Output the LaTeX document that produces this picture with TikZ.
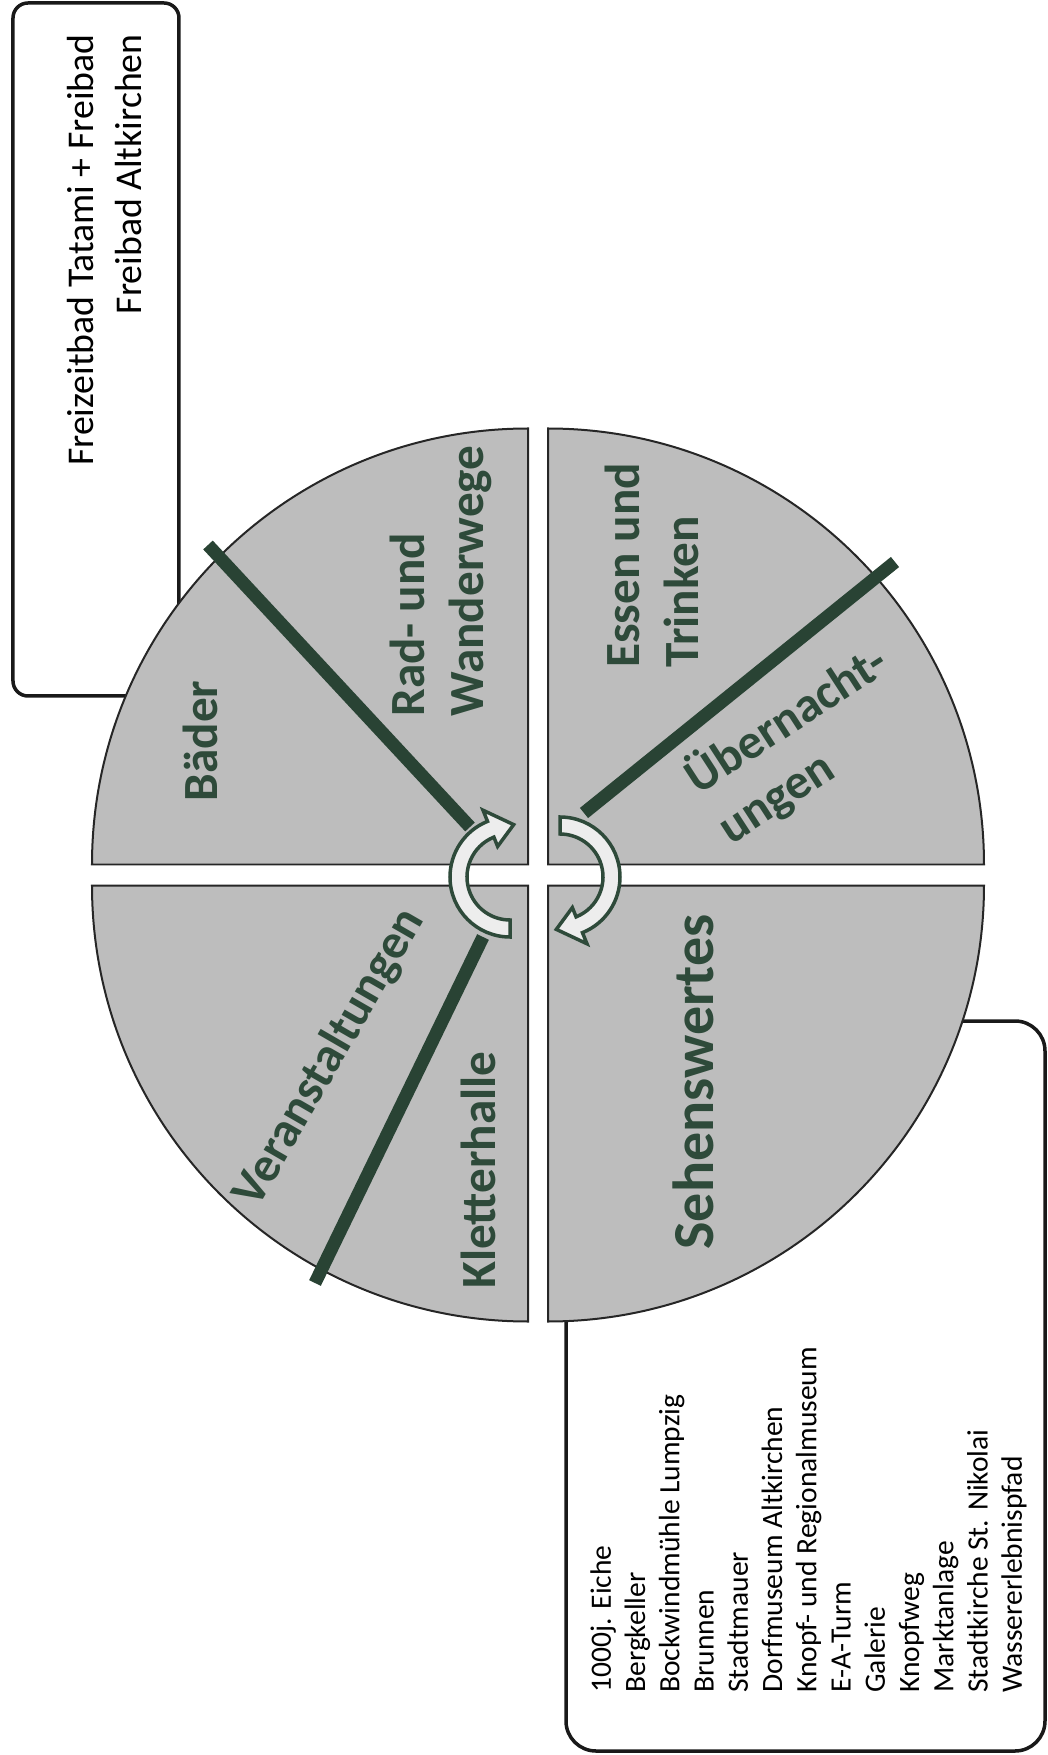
\documentclass[tikz,border=0pt]{standalone}
\usepackage{fontspec}
\setmainfont{Carlito}
\usepackage{tikz}
\usepackage{xcolor}
\definecolor{leafgreen}{HTML}{2E4A3A}
\definecolor{sectorgray}{HTML}{BDBDBD}
\definecolor{arrowfill}{HTML}{EDEDED}
\tikzstyle{sector} = [fill=sectorgray, draw=black!85, line width=0.04cm]
\tikzstyle{split} = [draw=leafgreen!90!black, line width=0.26cm]
\tikzstyle{sectortext} = [text=leafgreen, font=\bfseries\fontsize{28}{34}\selectfont, inner sep=0pt]
\tikzstyle{callout} = [draw=black!90, line width=0.07cm]
\tikzstyle{callouttext} = [font=\fontsize{21.5}{27.3}\selectfont, inner sep=0pt]
\tikzstyle{listtext} = [font=\fontsize{16.8}{19.5}\selectfont, inner sep=0pt]
\tikzstyle{turnarrow} = [fill=arrowfill, draw=leafgreen, line width=0.07cm]

\begin{document}
\begin{tikzpicture}
        \useasboundingbox (-10.76,-17.6) rectangle (10.2,17.5);

        % boxes behind the wheel
        \draw[callout, rounded corners=0.3cm] (-10.5,3.58) rectangle (-7.18,17.44);
        \draw[callout, rounded corners=0.6cm] (0.56,-17.52) rectangle (10.14,-2.92);

        \draw (-8.66,16.82) node[callouttext, rotate=90, anchor=east, align=right] (baths)
        {Freizeitbad Tatami + Freibad\\Freibad Altkirchen};
        \draw (5.41,-16.36) node[listtext, rotate=90, anchor=west, align=left] (sights)
        {1000j. Eiche\\Bergkeller\\Bockwindmühle Lumpzig\\Brunnen\\Stadtmauer\\Dorfmuseum Altkirchen\\Knopf- und Regionalmuseum\\E-A-Turm\\Galerie\\Knopfweg\\Marktanlage\\Stadtkirche St. Nikolai\\Wassererlebnispfad};

        % four quarters
        \draw[sector] (-0.2,0.21) -- ++(-8.72,0) arc[start angle=180, end angle=90, radius=8.72] -- cycle;
        \draw[sector] (0.2,0.21) -- ++(0,8.72) arc[start angle=90, end angle=0, radius=8.72] -- cycle;
        \draw[sector] (-0.2,-0.21) -- ++(0,-8.72) arc[start angle=270, end angle=180, radius=8.72] -- cycle;
        \draw[sector] (0.2,-0.21) -- ++(8.72,0) arc[start angle=0, end angle=-90, radius=8.72] -- cycle;

        \draw[split] (-6.6,6.6) -- (-1.36,0.96);
        \draw[split] (7.14,6.26) -- (0.92,1.24);
        \draw[split] (-1.1,-1.24) -- (-4.46,-8.16);

        \draw (-6.76,2.68) node[sectortext, rotate=90] (baeder) {Bäder};
        \draw (-1.94,3.16) node[sectortext, rotate=90, anchor=west, align=left] (wege) {Rad- und\\Wanderwege};
        \draw (2.28,4.14) node[sectortext, rotate=90, anchor=west, align=left] (essen) {Essen und\\Trinken};
        \draw (3.36,1.36) node[sectortext, rotate=33, anchor=west, align=left] (nacht) {Übernacht-\\ungen};
        \draw (-4.16,-3.66) node[sectortext, rotate=60] (events) {Veranstaltungen};
        \draw (-1.2,-5.9) node[sectortext, rotate=90] (klettern) {Kletterhalle};
        \draw (3.1,-4.14) node[sectortext, rotate=90, font=\bfseries\fontsize{33}{40}\selectfont] (sehens) {Sehenswertes};

        % turning arrows in the middle
        \draw[turnarrow, shift={(-0.56,-0.04)}] (-90:1.2) arc[start angle=-90, end angle=-248, radius=1.2]
        -- (112:1.44) -- (86:1.05) -- (112:0.66) -- (112:0.86) arc[start angle=112, end angle=270, radius=0.86] -- cycle;
        \draw[turnarrow, shift={(0.44,-0.04)}, rotate=180] (-90:1.2) arc[start angle=-90, end angle=-248, radius=1.2]
        -- (112:1.44) -- (86:1.05) -- (112:0.66) -- (112:0.86) arc[start angle=112, end angle=270, radius=0.86] -- cycle;
    \end{tikzpicture}
\end{document}
